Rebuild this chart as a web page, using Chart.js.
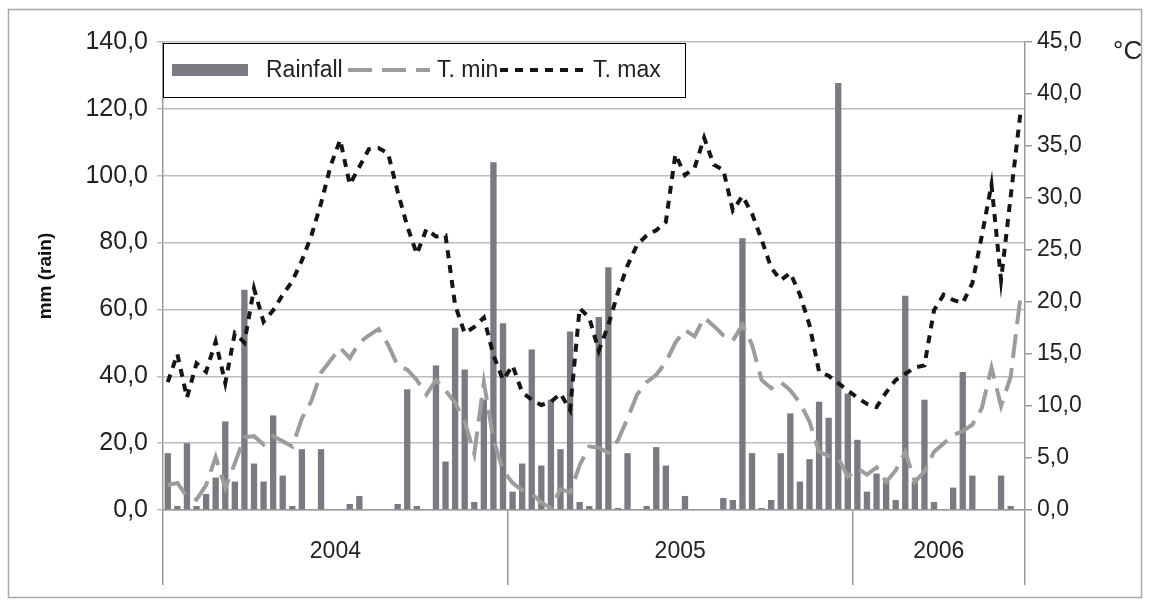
<!DOCTYPE html>
<html>
<head>
<meta charset="utf-8">
<script src="https://cdn.jsdelivr.net/npm/chart.js@4.4.1/dist/chart.umd.min.js"></script>
<style>
  html, body { margin: 0; padding: 0; background: #fff; }
  #wrap { width: 1149px; height: 605px; }
</style>
</head>
<body>
<div id="wrap"><canvas id="climChart" width="1149" height="605"></canvas></div>
<script>
// ten-day periods (dekads), Jan 2004 - Jun 2006
const years = ['2004', '2005', '2006'];
const dekadsPerYear = [36, 36, 18];

// rainfall per dekad (mm)
const rainfall = [
  17.0, 1.2, 20.0, 1.2, 4.8, 9.7, 26.5, 8.5, 65.9, 13.9, 8.5, 28.3, 10.3, 1.2, 18.2, 0,
  18.2, 0, 0, 1.8, 4.2, 0, 0, 0, 1.8, 36.1, 1.2, 0, 43.2, 14.5, 54.5, 42.0,
  2.4, 33.0, 104.0, 55.9, 5.5, 13.9, 48.0, 13.3, 33.0, 18.2, 53.4, 2.4, 1.2, 57.7,
  72.6, 0.6, 17.0, 0, 1.2, 18.8, 13.3, 0, 4.2, 0, 0, 0, 3.6, 3.0,
  81.3, 17.0, 0.6, 3.0, 17.0, 28.9, 8.5, 15.2, 32.4, 27.6, 127.7, 34.8, 21.0, 5.5, 10.9,
  8.5, 3.0, 64.1, 8.5, 33.0, 2.4, 0, 6.7, 41.3, 10.3, 0, 0, 10.3, 1.2, 0
];

// minimum temperature (°C)
const tMin = [
  2.4, 2.6, 1.3, 1.0, 2.4, 5.1, 2.1, 4.5, 7.0, 7.1, 6.3, 7.1, 6.6, 6.1, 8.8, 10.5,
  13.2, 14.4, 15.6, 14.6, 16.1, 16.8, 17.4, 15.9, 13.9, 13.5, 12.5, 11.1, 12.5, 11.5,
  10.3, 8.5, 5.4, 12.3, 6.8, 3.8, 2.6, 1.9, 1.6, 0.7, 0.2, 2.0, 1.7, 4.3, 6.1, 6.0,
  5.5, 6.7, 8.8, 11.1, 12.3, 13.0, 14.2, 16.1, 17.3, 16.7, 18.5, 17.7, 16.8, 16.3,
  17.8, 15.9, 12.5, 11.7, 12.3, 11.5, 10.3, 8.5, 5.6, 5.2, 5.0, 3.2, 4.0, 3.4, 4.1,
  2.7, 3.8, 5.6, 2.7, 3.7, 5.6, 6.4, 7.2, 7.6, 8.2, 9.8, 13.7, 10.0, 12.8, 20.3
];

// maximum temperature (°C)
const tMax = [
  12.3, 15.0, 10.8, 14.1, 13.3, 16.2, 12.2, 17.0, 16.1, 21.3, 18.1, 19.2, 20.7, 22.0, 24.0, 26.4,
  29.5, 33.1, 35.6, 31.3, 33.0, 34.7, 34.8, 34.3, 30.6, 27.3, 24.6, 27.0, 26.3, 26.4,
  19.7, 17.0, 17.6, 18.5, 14.9, 12.5, 13.9, 11.3, 10.6, 10.1, 10.4, 11.2, 9.6, 19.4, 18.5, 15.3,
  17.8, 20.9, 23.5, 25.5, 26.4, 26.9, 27.7, 34.2, 32.2, 32.9, 35.8, 33.2, 32.7, 28.8,
  30.2, 28.5, 26.0, 23.3, 22.1, 22.8, 20.7, 17.8, 13.3, 12.9, 12.2, 11.5, 10.8, 10.2, 9.9,
  11.3, 12.5, 13.1, 13.7, 13.9, 19.2, 20.7, 20.2, 19.9, 21.8, 26.4, 31.3, 22.1, 30.1, 38.0
];

const rainTicks = [0, 20, 40, 60, 80, 100, 120, 140];
const tempTicks = [0, 5, 10, 15, 20, 25, 30, 35, 40, 45];

// category labels and year boundaries for the grouped axis
const labels = [];
years.forEach((y, i) => {
  for (let d = 1; d <= dekadsPerYear[i]; d++) labels.push(y + ' d' + d);
});
const bounds = [0];
dekadsPerYear.forEach(n => bounds.push(bounds[bounds.length - 1] + n));
const mids = years.map((y, i) => (bounds[i] + bounds[i + 1]) / 2);

const fmt = v => Number(v).toFixed(1).replace('.', ',');
const FONT = "'Liberation Sans', Arial, sans-serif";
Chart.defaults.font.family = FONT;
Chart.defaults.color = '#222';

const barColor = '#7a7a80';
const minColor = '#9c9c9c';
const maxColor = '#151515';

// outer frame, legend box and the °C unit
const extras = {
  id: 'extras',
  beforeDraw(chart) {
    const c = chart.ctx;
    c.save();
    c.fillStyle = '#fff';
    c.fillRect(0, 0, chart.width, chart.height);
    c.restore();
  },
  afterDraw(chart) {
    const c = chart.ctx;
    c.save();
    c.strokeStyle = '#a8a8a8';
    c.lineWidth = 1.5;
    c.strokeRect(8.5, 9.5, 1133, 588);

    // legend
    c.fillStyle = '#fff';
    c.fillRect(163, 43, 523, 55);
    c.strokeStyle = '#000';
    c.lineWidth = 1;
    c.strokeRect(163.5, 43.5, 522, 54);

    const ds = chart.data.datasets;
    c.fillStyle = ds[0].backgroundColor;
    c.fillRect(172, 64, 76, 12);

    c.lineCap = 'butt';
    c.lineWidth = 4;
    c.strokeStyle = ds[1].borderColor;
    c.setLineDash(ds[1].borderDash);
    c.beginPath(); c.moveTo(348, 70); c.lineTo(430, 70); c.stroke();

    c.strokeStyle = ds[2].borderColor;
    c.setLineDash(ds[2].borderDash);
    c.beginPath(); c.moveTo(500, 70); c.lineTo(588, 70); c.stroke();
    c.setLineDash([]);

    c.fillStyle = '#222';
    c.font = '23px ' + FONT;
    c.textBaseline = 'middle';
    c.textAlign = 'left';
    c.fillText(ds[0].label, 266, 71);
    c.fillText(ds[1].label, 437, 71);
    c.fillText(ds[2].label, 593, 71);

    c.font = '26px ' + FONT;
    c.fillText('°C', 1113, 52);
    c.restore();
  }
};

new Chart(document.getElementById('climChart'), {
  type: 'bar',
  data: {
    labels: labels,
    datasets: [
      {
        type: 'bar',
        label: 'Rainfall',
        data: rainfall,
        xAxisID: 'x',
        yAxisID: 'y',
        backgroundColor: barColor,
        barPercentage: 0.66,
        categoryPercentage: 1,
        order: 3
      },
      {
        type: 'line',
        label: 'T. min',
        data: tMin,
        xAxisID: 'x',
        yAxisID: 'y1',
        borderColor: minColor,
        borderWidth: 4,
        borderDash: [24, 10],
        borderCapStyle: 'butt',
        pointRadius: 0,
        tension: 0,
        fill: false,
        order: 2
      },
      {
        type: 'line',
        label: 'T. max',
        data: tMax,
        xAxisID: 'x',
        yAxisID: 'y1',
        borderColor: maxColor,
        borderWidth: 4,
        borderDash: [8, 7],
        borderCapStyle: 'butt',
        pointRadius: 0,
        tension: 0,
        fill: false,
        order: 1
      }
    ]
  },
  options: {
    responsive: false,
    animation: false,
    devicePixelRatio: 1,
    layout: { padding: { left: 10, right: 10, top: 42, bottom: 10 } },
    plugins: {
      legend: { display: false },
      tooltip: { enabled: false }
    },
    scales: {
      x: {
        type: 'category',
        display: false,
        offset: true,
        grid: { offset: true }
      },
      x2: {
        type: 'linear',
        position: 'bottom',
        min: 0,
        max: bounds[bounds.length - 1],
        offset: false,
        afterBuildTicks: s => {
          s.ticks = bounds.concat(mids).sort((a, b) => a - b).map(v => ({ value: v }));
        },
        afterFit: s => { s.height = 85; },
        border: { color: '#9a9a9a', width: 1.5 },
        grid: {
          offset: false,
          drawOnChartArea: false,
          tickLength: 75,
          lineWidth: 1.5,
          color: ctx => (ctx.tick && bounds.includes(ctx.tick.value)) ? '#9a9a9a' : 'rgba(0,0,0,0)'
        },
        ticks: {
          autoSkip: false,
          maxRotation: 0,
          padding: -47,
          font: { size: 23 },
          color: '#222',
          callback: v => {
            const i = mids.indexOf(v);
            return i >= 0 ? years[i] : '';
          }
        }
      },
      y: {
        position: 'left',
        min: 0,
        max: 140,
        afterBuildTicks: s => { s.ticks = rainTicks.map(v => ({ value: v })); },
        afterFit: s => { s.width = 153; },
        border: { color: '#9a9a9a', width: 1.5 },
        grid: { color: '#bdbdbd', lineWidth: 1.5, tickLength: 6 },
        ticks: { font: { size: 25 }, padding: 9, callback: fmt },
        title: {
          display: true,
          text: 'mm (rain)',
          font: { size: 19, weight: 'bold' },
          color: '#111',
          padding: { top: 24, bottom: 0 }
        }
      },
      y1: {
        position: 'right',
        min: 0,
        max: 45,
        afterBuildTicks: s => { s.ticks = tempTicks.map(v => ({ value: v })); },
        afterFit: s => { s.width = 114; },
        border: { color: '#9a9a9a', width: 1.5 },
        grid: { drawOnChartArea: false, color: '#9a9a9a', lineWidth: 1.5, tickLength: 7 },
        ticks: { font: { size: 23 }, padding: 5, callback: fmt }
      }
    }
  },
  plugins: [extras]
});
</script>
</body>
</html>
